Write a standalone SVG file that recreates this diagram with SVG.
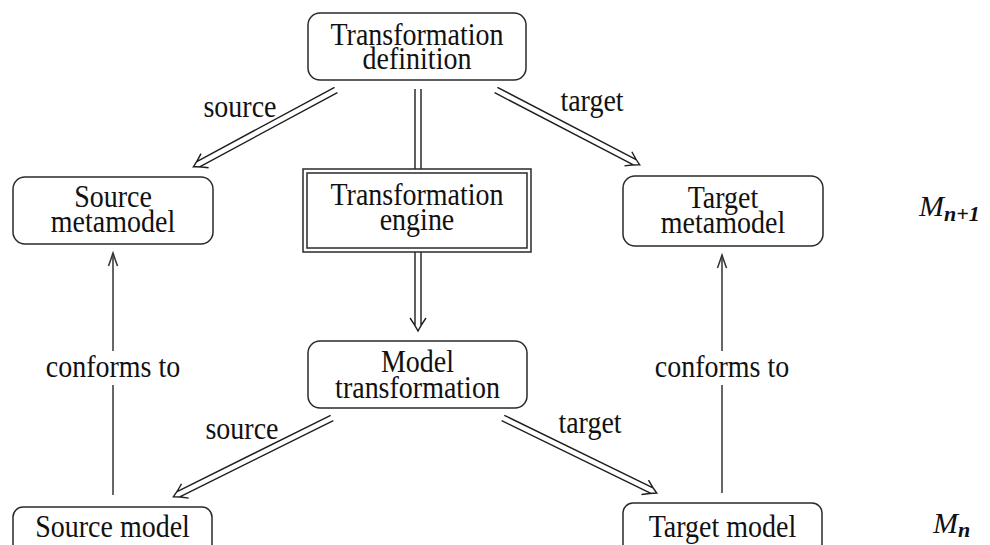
<svg xmlns="http://www.w3.org/2000/svg" width="990" height="545" viewBox="0 0 990 545">
  <style>
    .box { fill: #fff; stroke: #2a2a2a; stroke-width: 1.5; }
    .lbl { font-family: "Liberation Serif", "Times New Roman", serif; font-size: 28px; fill: #111; text-anchor: middle; }
    .math { font-family: "Liberation Serif", "Times New Roman", serif; font-style: italic; fill: #111; }
    .dbl { fill: none; stroke: #1e1e1e; stroke-width: 1.4; stroke-linejoin: miter; }
    .sgl { fill: none; stroke: #333; stroke-width: 1.5; }
  </style>

  <rect width="990" height="545" fill="#fff"/>

  <!-- connectors -->
  <g id="connectors">
    <!-- definition -> source metamodel -->
    <g transform="translate(336,90) rotate(151.7)">
      <path class="dbl" d="M0,-3H157M0,3H157M149,-8Q156,-3 162,0Q156,3 149,8"/>
    </g>
    <!-- definition -> target metamodel -->
    <g transform="translate(496,90) rotate(27.5)">
      <path class="dbl" d="M0,-3H157M0,3H157M149,-8Q156,-3 162,0Q156,3 149,8"/>
    </g>
    <!-- definition -> engine -->
    <path class="dbl" d="M415,89V169M421,89V169"/>
    <!-- engine -> model transformation -->
    <g transform="translate(418,252) rotate(90)">
      <path class="dbl" d="M0,-3H74M0,3H74M66,-8Q73,-3 79,0Q73,3 66,8"/>
    </g>
    <!-- model transformation -> source model -->
    <g transform="translate(332,418) rotate(153.6)">
      <path class="dbl" d="M0,-3H172M0,3H172M164,-8Q171,-3 177,0Q171,3 164,8"/>
    </g>
    <!-- model transformation -> target model -->
    <g transform="translate(503,418) rotate(26)">
      <path class="dbl" d="M0,-3H166M0,3H166M158,-8Q165,-3 171,0Q165,3 158,8"/>
    </g>
    <!-- conforms to (source side) -->
    <path class="sgl" d="M113,495V254"/>
    <path class="sgl" d="M108.5,266Q111,259 113,253Q115,259 117.5,266"/>
    <!-- conforms to (target side) -->
    <path class="sgl" d="M722,493V255"/>
    <path class="sgl" d="M717.5,268Q720,261 722,255Q724,261 726.5,268"/>

    <!-- connector labels -->
    <text class="lbl" transform="translate(240,117) scale(1,1.1)">source</text>
    <text class="lbl" transform="translate(592,111) scale(1,1.1)">target</text>
    <text class="lbl" transform="translate(242,439) scale(1,1.1)">source</text>
    <text class="lbl" transform="translate(590,433) scale(1,1.1)">target</text>
    <rect x="44" y="351" width="139" height="34" fill="#fff"/>
    <text class="lbl" transform="translate(113,377) scale(1,1.1)">conforms to</text>
    <rect x="653" y="351" width="139" height="34" fill="#fff"/>
    <text class="lbl" transform="translate(722,377) scale(1,1.1)">conforms to</text>
  </g>

  <!-- nodes -->
  <g id="transformation-definition">
    <rect class="box" x="308" y="13" width="218" height="67" rx="12"/>
    <text class="lbl" transform="translate(417,45) scale(1,1.1)"><tspan x="0" y="0">Transformation</tspan><tspan x="0" y="22">definition</tspan></text>
  </g>

  <g id="transformation-engine">
    <rect class="box" x="303" y="169" width="228" height="83"/>
    <rect class="box" x="307" y="173" width="220" height="75"/>
    <text class="lbl" transform="translate(417,205) scale(1,1.1)"><tspan x="0" y="0">Transformation</tspan><tspan x="0" y="23">engine</tspan></text>
  </g>

  <g id="source-metamodel">
    <rect class="box" x="13" y="177" width="200" height="67" rx="12"/>
    <text class="lbl" transform="translate(113,207) scale(1,1.1)"><tspan x="0" y="0">Source</tspan><tspan x="0" y="23">metamodel</tspan></text>
  </g>

  <g id="target-metamodel">
    <rect class="box" x="623" y="176" width="200" height="70" rx="12"/>
    <text class="lbl" transform="translate(723,208) scale(1,1.1)"><tspan x="0" y="0">Target</tspan><tspan x="0" y="23">metamodel</tspan></text>
  </g>

  <g id="model-transformation">
    <rect class="box" x="308" y="341" width="219" height="67" rx="12"/>
    <text class="lbl" transform="translate(417.5,372) scale(1,1.1)"><tspan x="0" y="0">Model</tspan><tspan x="0" y="23.5">transformation</tspan></text>
  </g>

  <g id="source-model">
    <rect class="box" x="13" y="507" width="199" height="60" rx="10"/>
    <text class="lbl" transform="translate(112.5,537) scale(1,1.1)">Source model</text>
  </g>

  <g id="target-model">
    <rect class="box" x="623" y="503" width="199" height="60" rx="10"/>
    <text class="lbl" transform="translate(722.5,537) scale(1,1.1)">Target model</text>
  </g>

  <!-- level annotations -->
  <g id="level-upper">
    <text class="math" x="919" y="216" font-size="30">M<tspan font-size="22" dy="5" font-weight="bold">n+1</tspan></text>
  </g>
  <g id="level-lower">
    <text class="math" x="933" y="533" font-size="30">M<tspan font-size="22" dy="4" font-weight="bold">n</tspan></text>
  </g>
</svg>
